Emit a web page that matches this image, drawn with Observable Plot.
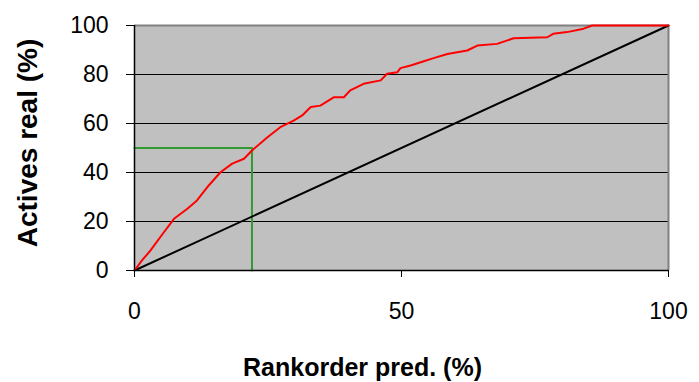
<!DOCTYPE html>
<html>
<head>
<meta charset="utf-8">
<script src="https://cdn.jsdelivr.net/npm/d3@7"></script>
<script src="https://cdn.jsdelivr.net/npm/@observablehq/plot@0.6"></script>
<style>
  html, body { margin: 0; padding: 0; background: #fff; }
  #chart svg { display: block; }
</style>
</head>
<body>
<div id="chart"></div>
<script>
// Red curve: actives found (%) vs rank-order of prediction (%)
const redX = [0, 1.4, 3.0, 5.5, 7.4, 9.9, 11.7, 13.9, 16.1, 18.3, 20.5, 22.0, 24.9, 27.3, 29.8, 31.4, 33.0, 34.8, 37.3, 39.2, 40.4, 42.9, 46.1, 47.3, 49.2, 49.8, 51.7, 53.6, 56.0, 58.6, 62.3, 64.2, 67.9, 71.0, 77.3, 78.4, 81.0, 84.1, 85.7, 100];
const redY = [0, 4.1, 8.2, 15.6, 21.1, 25.2, 28.6, 34.7, 40.1, 43.6, 45.6, 49.0, 54.4, 58.5, 61.2, 63.3, 66.7, 67.3, 70.7, 70.7, 73.5, 76.2, 77.6, 80.3, 80.9, 82.6, 83.7, 85.0, 86.7, 88.4, 89.8, 91.8, 92.5, 94.8, 95.2, 96.6, 97.3, 98.7, 100, 100];
// Black diagonal: random ranking
const diagX = [0, 100];
const diagY = [0, 100];
// Green guide: 50% of actives reached at ~22% of the ranking
const guideX = [0, 22, 22];
const guideY = [50, 50, 0];
const yTicks = [0, 20, 40, 60, 80, 100];
const xTicks = [0, 50, 100];
const gridY = [20, 40, 60, 80];
const xTitle = "Rankorder pred. (%)";
const yTitle = "Actives real (%)";

const red = redX.map((x, i) => ({x, y: redY[i]}));
const diag = diagX.map((x, i) => ({x, y: diagY[i]}));
const guide = guideX.map((x, i) => ({x, y: guideY[i]}));

const chart = Plot.plot({
  width: 699,
  height: 382,
  marginLeft: 134,
  marginRight: 31,
  marginTop: 25,
  marginBottom: 112,
  style: {fontFamily: "'Liberation Sans', Arial, sans-serif", background: "#fff"},
  x: {domain: [0, 100]},
  y: {domain: [0, 100]},
  marks: [
    Plot.frame({fill: "#c0c0c0", stroke: "none"}),
    Plot.ruleY(gridY, {stroke: "#000", strokeWidth: 1}),
    Plot.ruleY([100], {stroke: "#808080", strokeWidth: 2}),
    Plot.ruleX([100], {stroke: "#808080", strokeWidth: 2}),
    Plot.line(guide, {x: "x", y: "y", stroke: "#339933", strokeWidth: 2}),
    Plot.line(diag, {x: "x", y: "y", stroke: "#000", strokeWidth: 2}),
    Plot.line(red, {x: "x", y: "y", stroke: "#ff0000", strokeWidth: 2}),
    Plot.ruleX([0], {stroke: "#000", strokeWidth: 1.5}),
    Plot.ruleY([0], {stroke: "#000", strokeWidth: 1.5}),
    Plot.axisY(yTicks, {tickSize: 8, tickPadding: 18, fontSize: 23, label: null, stroke: "#000", color: "#000"}),
    Plot.axisX(xTicks, {tickSize: 7, tickPadding: 25, fontSize: 23, label: null, stroke: "#000", color: "#000"}),
    Plot.text([xTitle], {frameAnchor: "bottom", lineAnchor: "middle", textAnchor: "middle", dx: -39, dy: 97, fontSize: 25, fontWeight: "bold", fill: "#000"}),
    Plot.text([yTitle], {frameAnchor: "left", lineAnchor: "middle", textAnchor: "middle", rotate: -90, dx: -106, dy: -5, fontSize: 28, fontWeight: "bold", fill: "#000"})
  ]
});
document.getElementById("chart").appendChild(chart);
</script>
</body>
</html>
